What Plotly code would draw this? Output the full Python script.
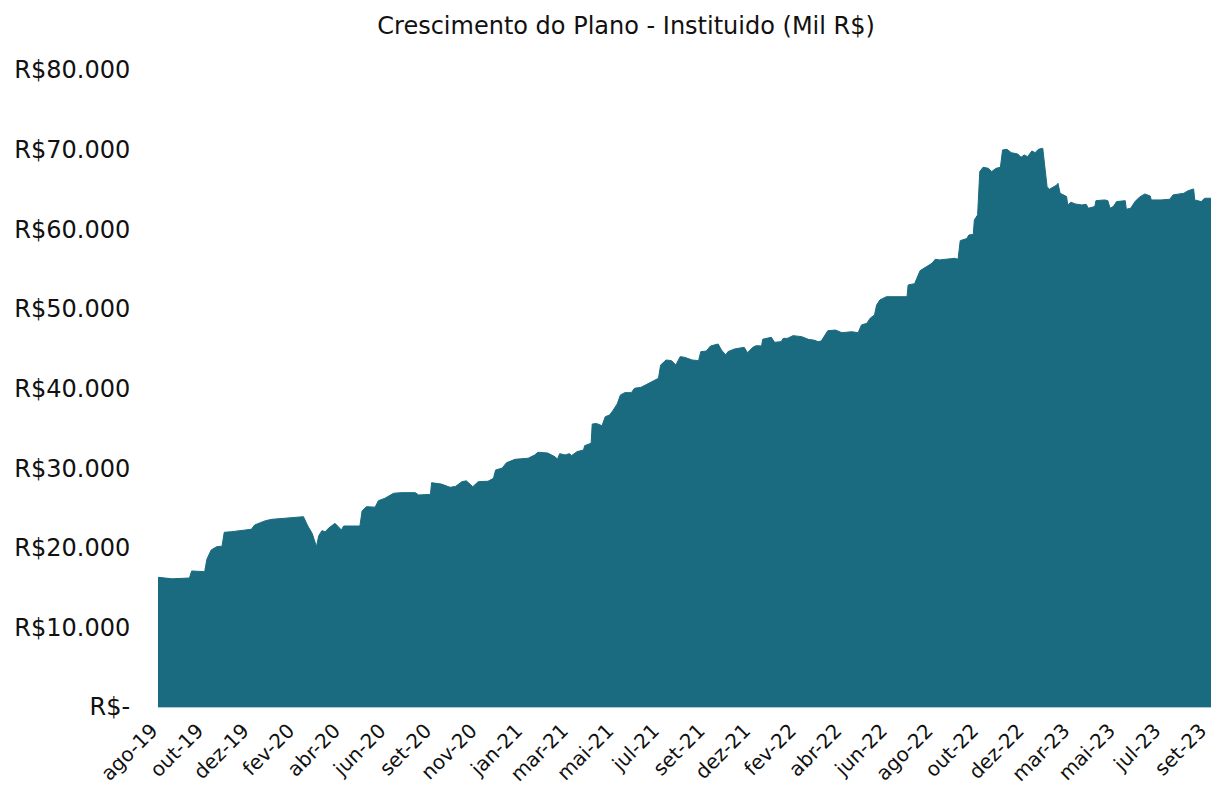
import plotly.graph_objects as go

# Trading-day index (pregão) since ago-19 and plan balance (Mil R$)
pregao = [0, 13, 29, 31, 43, 45, 49, 54, 59, 61, 68, 86, 89, 99, 105, 126, 134, 138, 142, 146,
          148, 151, 154, 157, 163, 169, 171, 186, 188, 192, 200, 203, 209, 217, 224, 237, 240, 251,
          252, 261, 269, 274, 280, 284, 290, 295, 304, 309, 311, 317, 321, 329, 341, 347, 350, 359,
          366, 368, 370, 375, 379, 381, 386, 392, 393, 399, 400, 404, 409, 412, 416, 419, 423, 426,
          430, 436, 439, 445, 452, 458, 461, 463, 468, 473, 477, 481, 485, 492, 498, 500, 505, 509,
          516, 519, 523, 525, 531, 540, 543, 548, 551, 556, 557, 565, 568, 574, 576, 580, 585, 593,
          599, 605, 608, 611, 613, 617, 624, 630, 639, 645, 648, 653, 656, 660, 662, 665, 671, 679,
          690, 691, 697, 702, 708, 713, 716, 720, 734, 737, 739, 745, 747, 751, 752, 755, 757, 760,
          765, 768, 772, 776, 778, 782, 786, 792, 795, 798, 801, 805, 808, 811, 815, 817, 819, 821,
          828, 829, 831, 837, 838, 841, 845, 851, 855, 857, 863, 864, 872, 875, 877, 880, 883, 891,
          892, 896, 900, 904, 909, 914, 915, 924, 932, 935, 941, 945, 949, 952, 954, 955, 961, 964,
          970]

saldo_mil = [16290, 16100, 16200, 17080, 17000, 18550, 19720, 20130, 20200, 21940, 22020, 22320,
             22860, 23400, 23570, 23750, 23900, 22730, 21810, 20130, 21480, 22150, 22000, 22440,
             23070, 22230, 22730, 22730, 24620, 25160, 25100, 25910, 26210, 26840, 26920, 26920,
             26630, 26700, 28170, 28000, 27590, 27700, 28300, 28400, 27670, 28300, 28350, 28720,
             29770, 30000, 30680, 31110, 31240, 31650, 31990, 31900, 31400, 31110, 31820, 31650,
             31820, 31570, 32070, 32280, 32820, 33120, 35540, 35600, 35330, 36460, 36670, 37220,
             38060, 39190, 39480, 39480, 40030, 40150, 40660, 41160, 41280, 42950, 43580, 43500,
             42950, 44000, 43920, 43580, 43500, 44630, 44700, 45340, 45590, 44840, 44210, 44630,
             44960, 45170, 44500, 45170, 45380, 45340, 46180, 46430, 45800, 45880, 46300, 46300,
             46640, 46510, 46180, 46050, 45880, 45960, 46430, 47260, 47340, 47010, 47130, 47010,
             47980, 48190, 48820, 49240, 50490, 51120, 51530, 51530, 51530, 53000, 53170, 54800,
             55310, 55730, 56230, 56150, 56350, 56230, 58570, 58830, 59280, 59350, 61170, 61800,
             67240, 67780, 67650, 67240, 67650, 67780, 69960, 70040, 69620, 69450, 69040, 69330,
             69120, 69830, 69620, 70040, 70170, 67450, 65350, 65010, 65560, 65770, 64520, 64100,
             63050, 63390, 63180, 63050, 63130, 62640, 62850, 63590, 63680, 63590, 62640, 62850,
             63470, 63590, 62510, 62640, 63470, 64020, 64430, 64180, 63680, 63680, 63770, 64310,
             64430, 64520, 64850, 64940, 65060, 63680, 63470, 63890, 63890]

tick_labels = ["ago-19", "out-19", "dez-19", "fev-20", "abr-20", "jun-20", "set-20", "nov-20",
               "jan-21", "mar-21", "mai-21", "jul-21", "set-21", "dez-21", "fev-22", "abr-22",
               "jun-22", "ago-22", "out-22", "dez-22", "mar-23", "mai-23", "jul-23", "set-23"]
label_step = 42  # trading days between labels

y_ticks = [0, 10000, 20000, 30000, 40000, 50000, 60000, 70000, 80000]
y_labels = ["R$-", "R$10.000", "R$20.000", "R$30.000", "R$40.000", "R$50.000",
            "R$60.000", "R$70.000", "R$80.000"]

FONT = "DejaVu Sans"
COLOR = "#1a6a80"

fig = go.Figure(go.Scatter(
    x=pregao, y=saldo_mil, mode="lines", fill="tozeroy",
    line=dict(color=COLOR, width=1), fillcolor=COLOR, hoverinfo="x+y",
    cliponaxis=False,
))

fig.update_layout(
    width=1211, height=787,
    margin=dict(l=158, r=0, t=70, b=80),
    paper_bgcolor="white", plot_bgcolor="white",
    showlegend=False,
    title=dict(text="Crescimento do Plano - Instituido (Mil R$)", x=0.517, xanchor="center",
               y=1 - 26 / 787, yanchor="middle", font=dict(family=FONT, size=24, color="#111")),
    xaxis=dict(range=[0, max(pregao)], tickmode="array", automargin=False,
               tickvals=[i * label_step for i in range(len(tick_labels))],
               ticktext=tick_labels, tickangle=-45, showgrid=False, zeroline=False,
               ticklabeloverflow="allow", ticklabelshift=-6,
               showline=True, linecolor="#a9cbd6", linewidth=1,
               ticks="outside", ticklen=3, tickcolor="rgba(0,0,0,0)",
               tickfont=dict(family=FONT, size=20, color="#111")),
    yaxis=dict(range=[0, 80000], tickmode="array", tickvals=y_ticks, ticktext=y_labels,
               automargin=False, showgrid=False, zeroline=False, showline=False,
               ticks="outside", ticklen=22, tickcolor="rgba(0,0,0,0)",
               tickfont=dict(family=FONT, size=24, color="#111")),
)

fig.write_html("out.html", config={"displayModeBar": False},
               post_script="document.body.style.margin='0';document.body.style.overflow='hidden';")
